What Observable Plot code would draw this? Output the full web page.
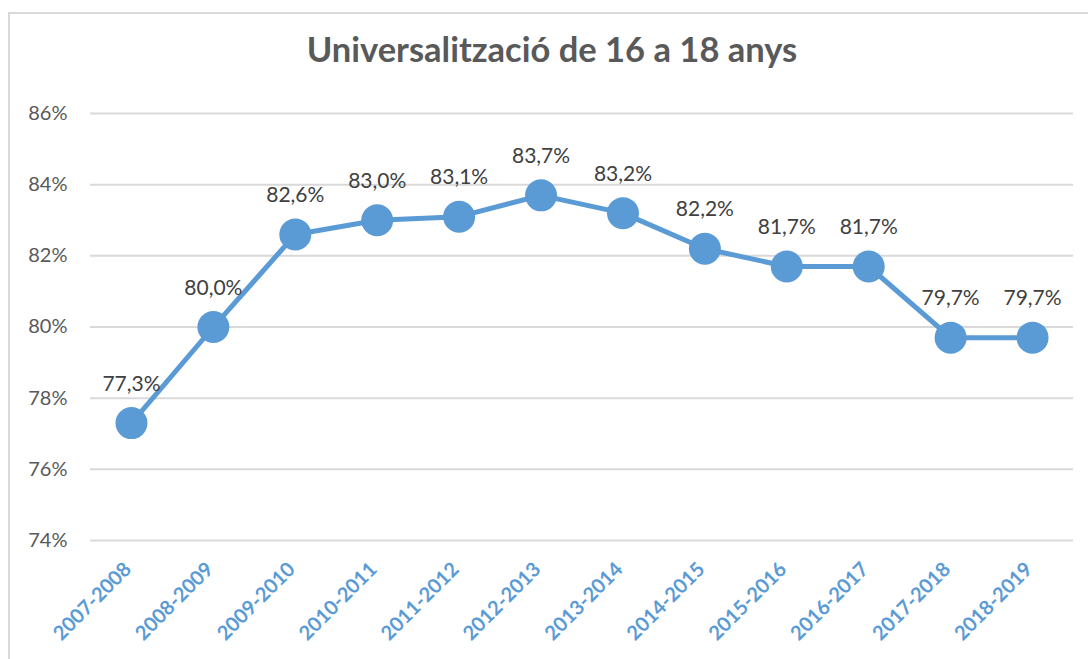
<!DOCTYPE html>
<html>
<head>
<meta charset="utf-8">
<script src="https://cdn.jsdelivr.net/npm/d3@7"></script>
<script src="https://cdn.jsdelivr.net/npm/@observablehq/plot@0.6"></script>
<style>
  html, body { margin: 0; padding: 0; background: #fff; }
  #wrap { position: relative; width: 1088px; height: 659px; overflow: hidden; }
  #frame { position: absolute; left: 8px; top: 12px; width: 1200px; height: 800px;
           border-top: 2px solid #d9d9d9; border-left: 2px solid #d9d9d9; }
  #title { position: absolute; left: 0; top: 0; width: 1104px; height: 80px; line-height: 98px;
           text-align: center; font-family: Lato, sans-serif; font-weight: bold; font-size: 34.5px; color: #595959; }
  #chart { position: absolute; left: 0; top: 80px; }
</style>
</head>
<body>
<div id="wrap">
  <div id="frame"></div>
  <div id="title">Universalització de 16 a 18 anys</div>
  <div id="chart"></div>
</div>
<script>
const years = ["2007-2008","2008-2009","2009-2010","2010-2011","2011-2012","2012-2013",
               "2013-2014","2014-2015","2015-2016","2016-2017","2017-2018","2018-2019"];
const values = [77.3, 80.0, 82.6, 83.0, 83.1, 83.7, 83.2, 82.2, 81.7, 81.7, 79.7, 79.7];
const yTicks = [74, 76, 78, 80, 82, 84, 86];

const data = years.map((y, i) => ({year: y, value: values[i]}));
const blue = "#5B9BD5";

const chart = Plot.plot({
  width: 1088,
  height: 579,
  marginLeft: 90,
  marginRight: 15,
  marginTop: 33,
  marginBottom: 119,
  style: {fontFamily: "Lato, sans-serif", background: "transparent", overflow: "visible"},
  x: {type: "point", domain: years, padding: 0.5, round: false, axis: null},
  y: {domain: [74, 86], ticks: yTicks, axis: null},
  marks: [
    Plot.ruleY(yTicks, {stroke: "#d9d9d9", strokeWidth: 2}),
    Plot.text(yTicks, {y: d => d, frameAnchor: "left", dx: -23, textAnchor: "end",
      text: d => d + "%", fontSize: 20, fill: "#595959"}),
    Plot.line(data, {x: "year", y: "value", stroke: blue, strokeWidth: 5}),
    Plot.dot(data, {x: "year", y: "value", r: 16, fill: blue, stroke: "none"}),
    Plot.text(data, {x: "year", y: "value", dy: -39, text: d => d.value.toFixed(1).replace(".", ",") + "%",
      fontSize: 21, fill: "#404040"}),
    Plot.text(years, {x: d => d, frameAnchor: "bottom", dy: 30, dx: 1, rotate: -45, textAnchor: "end",
      text: d => d, fontSize: 20, fontWeight: "bold", fill: blue})
  ]
});
document.getElementById("chart").appendChild(chart);
</script>
</body>
</html>
